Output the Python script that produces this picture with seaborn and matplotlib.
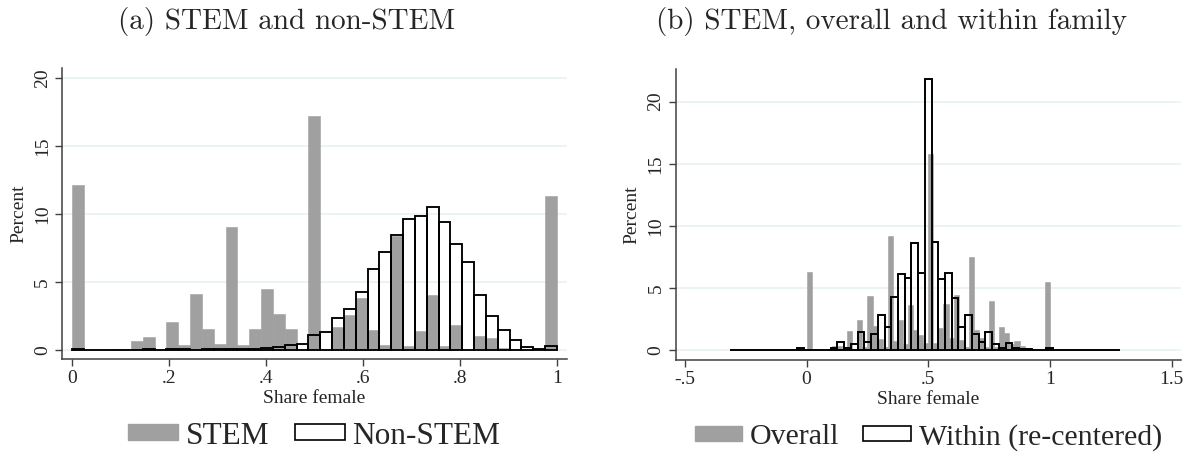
import numpy as np
import pandas as pd
import matplotlib
matplotlib.use("Agg")
import matplotlib.pyplot as plt
from matplotlib.patches import Patch
from matplotlib.ticker import FuncFormatter
import seaborn as sns

# Panel (a): 41 bins of width 1/41 on [0, 1], values in percent
stem_pct = [12.1, 0, 0, 0.08, 0.1, 0.69, 0.98, 0.05, 2.06, 0.37,
            4.11, 1.57, 0.44, 9.06, 0.37, 1.57, 4.5, 2.64, 1.57, 0,
            17.2, 0, 1.71, 2.57, 3.84, 1.47, 0.37, 8.37, 0.29, 1.42,
            4.04, 0.29, 1.84, 0, 1.03, 0.9, 0.12, 0, 0, 0, 11.3]
nonstem_pct = [0.05, 0, 0, 0, 0, 0, 0.05, 0.02, 0.05, 0.05,
               0.03, 0.04, 0.05, 0.05, 0.05, 0.07, 0.15, 0.25, 0.37, 0.44,
               1.1, 1.35, 2.33, 3.01, 4.24, 5.92, 7.22, 8.45, 9.62, 9.82,
               10.48, 9.42, 7.78, 6.44, 4.06, 2.47, 1.44, 0.76, 0.24, 0.05, 0.32]

# Panel (b): overall STEM share, 48 bins on [0, 1]
overall_pct = [6.3, 0.05, 0, 0.05, 0.05, 0.35, 0.35, 0.1, 1.55, 0.1,
               2.44, 0.3, 4.37, 1.97, 0.9, 0.3, 9.2, 0.75, 2.44, 0.5,
               3.65, 1.64, 1.23, 0.6, 15.8, 0.6, 1.77, 3.7, 1.0, 4.45,
               0.83, 0.3, 7.53, 1.64, 1.0, 0.3, 3.97, 0.3, 1.9, 1.37,
               0.5, 0.78, 0.35, 0.12, 0.08, 0.03, 0.03, 5.5]
# within-family (re-centered), 58 bins starting at -0.315
within_start = -0.315
within_width = 0.02762
within_pct = [0.05, 0.05, 0, 0.05, 0.05, 0.05, 0.05, 0.05, 0.05, 0.05,
              0.19, 0.05, 0.05, 0.05, 0.05, 0.2, 0.64, 0.16, 0.5, 1.5,
              0.64, 1.34, 2.84, 1.85, 4.27, 6.1, 5.8, 8.6, 6.25, 21.8,
              8.7, 5.74, 6.2, 4.2, 1.9, 2.8, 1.31, 0.7, 1.45, 0.51,
              0.16, 0.62, 0.21, 0.13, 0.08, 0.05, 0.03, 0.19, 0.05, 0.05,
              0.05, 0.05, 0.05, 0.05, 0.05, 0.05, 0.05, 0.05]

left_ticks = [0, 0.2, 0.4, 0.6, 0.8, 1]
right_ticks = [-0.5, 0, 0.5, 1, 1.5]
y_ticks = [0, 5, 10, 15, 20]

GRAY = "#a0a0a0"
GRID = "#e9f1f3"
AXC = "#404040"

sns.set_style("ticks")
plt.rcParams["font.family"] = ["Liberation Serif", "DejaVu Serif"]


def stata_fmt(v, pos=None):
    s = f"{v:g}"
    if s.startswith("0."):
        s = s[1:]
    elif s.startswith("-0."):
        s = "-" + s[2:]
    return s


def hist_from_bins(ax, edges, vals, **kw):
    edges = np.asarray(edges, dtype=float)
    df = pd.DataFrame({"x": (edges[:-1] + edges[1:]) / 2,
                       "pct": np.asarray(vals, dtype=float)})
    sns.histplot(data=df, x="x", weights="pct", bins=edges.tolist(),
                 stat="count", ax=ax, **kw)


def style_axes(ax, xticks, xlim, ylim):
    ax.set_xlim(*xlim)
    ax.set_ylim(*ylim)
    ax.set_xticks(xticks)
    ax.set_yticks(y_ticks)
    ax.xaxis.set_major_formatter(FuncFormatter(stata_fmt))
    ax.yaxis.grid(True, color=GRID, linewidth=1.2)
    ax.set_axisbelow(True)
    sns.despine(ax=ax)
    for sp in ["left", "bottom"]:
        ax.spines[sp].set_color(AXC)
        ax.spines[sp].set_linewidth(1.1)
    ax.tick_params(direction="out", length=5, width=1.0, color=AXC,
                   labelsize=14, pad=3)
    plt.setp(ax.get_yticklabels(), rotation=90, va="center")
    ax.set_xlabel("Share female", fontsize=14)
    ax.set_ylabel("Percent", fontsize=14)
    ax.xaxis.set_label_coords(0.5, -0.105)


fig = plt.figure(figsize=(11.95, 4.61), dpi=100)
ax1 = fig.add_axes([0.0521, 0.2213, 0.4221, 0.6306])
ax2 = fig.add_axes([0.5654, 0.2191, 0.4228, 0.6306])

# (a) STEM and non-STEM
edges_a = np.linspace(0, 1, len(stem_pct) + 1)
hist_from_bins(ax1, edges_a, stem_pct, color=GRAY, edgecolor=GRAY,
               linewidth=0.4, alpha=1)
hist_from_bins(ax1, edges_a, nonstem_pct, fill=False, color="black",
               linewidth=1.35)
style_axes(ax1, left_ticks, (-0.0194, 1.02), (-0.66, 20.7))
ax1.yaxis.set_label_coords(-0.07, 0.5)

# (b) overall and within family
edges_o = np.linspace(0, 1, len(overall_pct) + 1)
edges_w = within_start + within_width * np.arange(len(within_pct) + 1)
hist_from_bins(ax2, edges_o, overall_pct, color=GRAY, edgecolor=GRAY,
               linewidth=0.4, alpha=1)
hist_from_bins(ax2, edges_w, within_pct, fill=False, color="black",
               linewidth=1.4)
style_axes(ax2, right_ticks, (-0.538, 1.538), (-0.78, 22.6))
ax2.yaxis.set_label_coords(-0.069, 0.5)


# legends
def add_legend(ax, labels, fs):
    handles = [Patch(facecolor=GRAY, edgecolor=GRAY),
               Patch(facecolor="white", edgecolor="black", linewidth=1.2)]
    ax.legend(handles, labels, loc="center", bbox_to_anchor=(0.5, -0.265),
              ncol=2, frameon=False, fontsize=fs, handlelength=1.6,
              handleheight=0.42, handletextpad=0.25, columnspacing=0.8)


add_legend(ax1, ["STEM", "Non-STEM"], 22.5)
add_legend(ax2, ["Overall", "Within (re-centered)"], 21.5)

fig.text(287 / 1195, 1 - 21 / 461, "(a) STEM and non-STEM", ha="center",
         va="center", fontsize=21, family="cmr10")
fig.text(892 / 1195, 1 - 21 / 461, "(b) STEM, overall and within family",
         ha="center", va="center", fontsize=21, family="cmr10")

fig.savefig("out.png", dpi=100)
